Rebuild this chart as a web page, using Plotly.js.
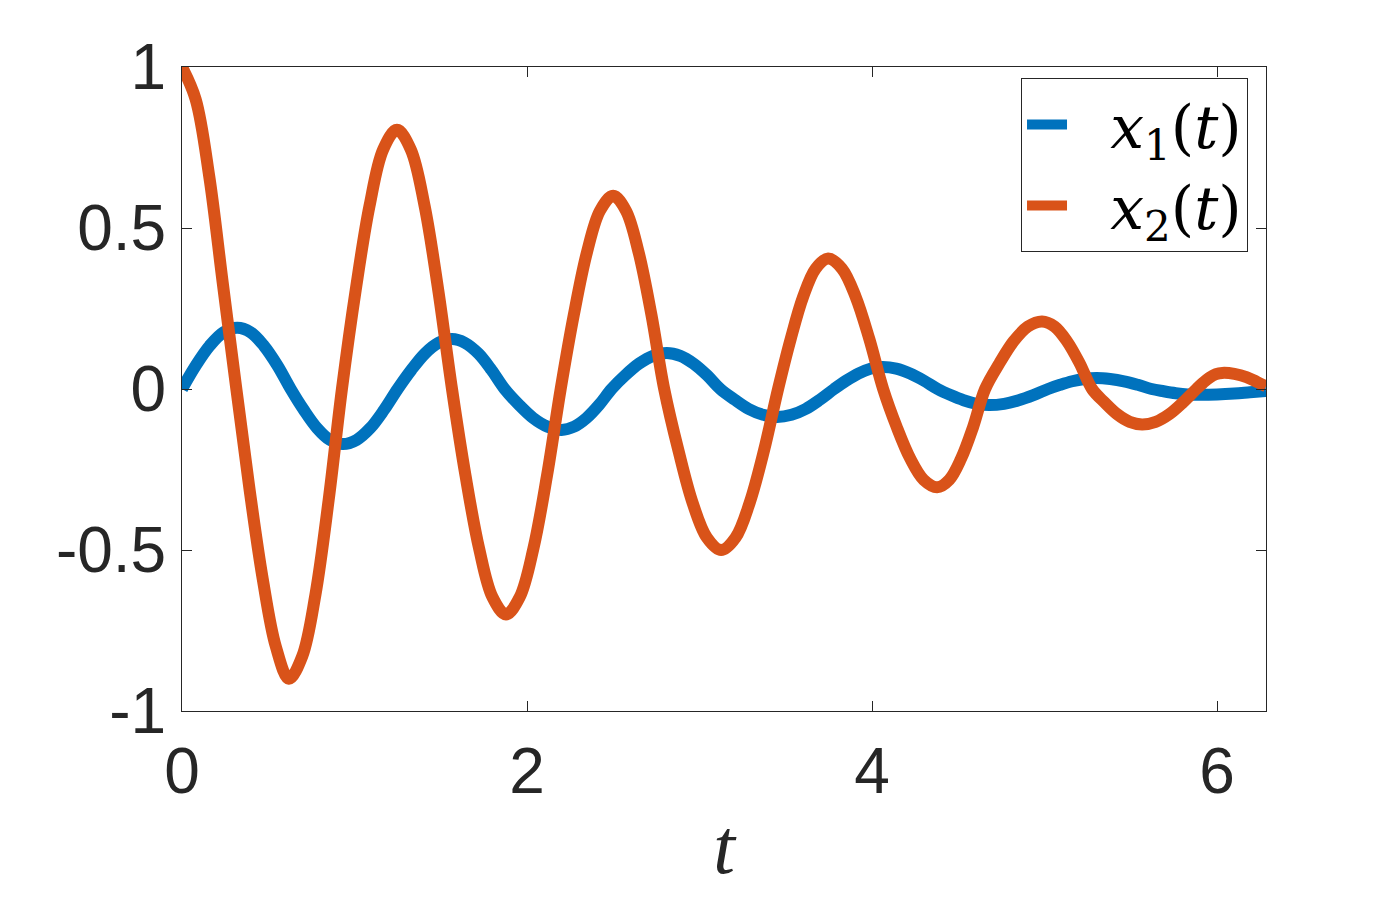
<!DOCTYPE html>
<html>
<head>
<meta charset="utf-8">
<script src="https://cdn.plot.ly/plotly-3.0.1.min.js"></script>
<style>
  html, body { margin: 0; padding: 0; background: #fff; }
  #plot { width: 1400px; height: 900px; }
</style>
</head>
<body>
<div id="plot"></div>
<script>
  // ─── Data ────────────────────────────────────────────────────────────────────
  var tX1 = [0.000, 0.080, 0.160, 0.240, 0.320, 0.398, 0.475, 0.553, 0.630,
             0.706, 0.782, 0.857, 0.933, 1.012, 1.092, 1.171, 1.250,
             1.329, 1.408, 1.486, 1.565, 1.641, 1.718, 1.794, 1.870,
             1.953, 2.035, 2.118, 2.200, 2.273, 2.345, 2.418, 2.490,
             2.570, 2.650, 2.730, 2.810, 2.888, 2.965, 3.043, 3.120,
             3.203, 3.285, 3.368, 3.450, 3.533, 3.615, 3.698, 3.780,
             3.850, 3.920, 3.990, 4.060, 4.140, 4.220, 4.300, 4.380,
             4.455, 4.530, 4.605, 4.680, 4.765, 4.850, 4.935, 5.020,
             5.090, 5.160, 5.230, 5.300, 5.380, 5.460, 5.540, 5.620,
             5.690, 5.760, 5.830, 5.900, 6.000, 6.100, 6.190, 6.283];
  var x1 = [0.000, 0.073, 0.134, 0.176, 0.190, 0.176, 0.134, 0.073, 0.000,
            -0.065, -0.121, -0.158, -0.171, -0.158, -0.121, -0.065, 0.000,
            0.059, 0.110, 0.143, 0.155, 0.143, 0.110, 0.059, 0.000,
            -0.049, -0.090, -0.117, -0.127, -0.117, -0.090, -0.049, 0.000,
            0.043, 0.079, 0.103, 0.112, 0.103, 0.079, 0.043, 0.000,
            -0.033, -0.062, -0.080, -0.087, -0.080, -0.062, -0.033, 0.000,
            0.026, 0.048, 0.063, 0.068, 0.063, 0.048, 0.026, 0.000,
            -0.019, -0.035, -0.046, -0.050, -0.046, -0.035, -0.019, 0.000,
            0.013, 0.024, 0.031, 0.034, 0.031, 0.024, 0.013, 0.000,
            -0.007, -0.013, -0.017, -0.018, -0.017, -0.014, -0.010, -0.006];

  var tX2 = [0.000, 0.079, 0.158, 0.236, 0.315, 0.391, 0.468, 0.544, 0.620,
             0.697, 0.773, 0.850, 0.927, 1.007, 1.087, 1.166, 1.246,
             1.326, 1.406, 1.485, 1.565, 1.643, 1.722, 1.800, 1.878,
             1.957, 2.037, 2.116, 2.195, 2.271, 2.347, 2.423, 2.499,
             2.573, 2.647, 2.721, 2.795, 2.878, 2.960, 3.043, 3.125,
             3.208, 3.290, 3.373, 3.455, 3.528, 3.600, 3.673, 3.745,
             3.825, 3.905, 3.984, 4.064, 4.142, 4.221, 4.299, 4.377,
             4.447, 4.516, 4.586, 4.655, 4.738, 4.820, 4.903, 4.985,
             5.058, 5.130, 5.203, 5.275, 5.348, 5.420, 5.493, 5.565,
             5.644, 5.723, 5.801, 5.880, 5.918, 5.955, 5.993, 6.030,
             6.100, 6.170, 6.230, 6.283];
  var x2 = [1.000, 0.900, 0.660, 0.330, 0.000, -0.310, -0.590, -0.800, -0.900,
            -0.830, -0.640, -0.345, 0.000, 0.308, 0.569, 0.744, 0.805,
            0.744, 0.569, 0.308, 0.000, -0.268, -0.495, -0.647, -0.700,
            -0.647, -0.495, -0.268, 0.000, 0.230, 0.424, 0.554, 0.600,
            0.554, 0.424, 0.230, 0.000, -0.192, -0.354, -0.462, -0.500,
            -0.462, -0.354, -0.192, 0.000, 0.155, 0.286, 0.374, 0.405,
            0.374, 0.286, 0.155, 0.000, -0.117, -0.216, -0.282, -0.305,
            -0.282, -0.216, -0.117, 0.000, 0.080, 0.148, 0.194, 0.210,
            0.194, 0.148, 0.080, 0.000, -0.042, -0.078, -0.102, -0.110,
            -0.102, -0.078, -0.042, 0.000, 0.019, 0.035, 0.046, 0.050,
            0.047, 0.037, 0.022, 0.008];

  var yTicks    = [-1, -0.5, 0, 0.5, 1];
  var yTickText = ['-1', '-0.5', '0', '0.5', '1'];
  var xTicks    = [0, 2, 4, 6];

  // ─── Styling ─────────────────────────────────────────────────────────────────
  var BLUE  = '#0072BD';
  var RED   = '#D95319';
  var INK   = '#262626';
  var SANS  = 'Liberation Sans, Arial, sans-serif';
  var SERIF = 'DejaVu Serif, Liberation Serif, serif';

  var axisCommon = {
    showline:  true,
    linecolor: INK,
    linewidth: 1,
    mirror:    'ticks',
    ticks:     'inside',
    ticklen:   10,
    tickwidth: 1,
    tickcolor: INK,
    showgrid:  false,
    zeroline:  false,
    tickfont:  { family: SANS, size: 64, color: INK }
  };

  var traces = [
    { x: tX1, y: x1, mode: 'lines', name: '&nbsp;&nbsp;<i>x</i><sub>1</sub>(<i>t</i>)',
      line: { color: BLUE, width: 12, shape: 'spline', smoothing: 1, simplify: false } },
    { x: tX2, y: x2, mode: 'lines', name: '&nbsp;&nbsp;<i>x</i><sub>2</sub>(<i>t</i>)',
      line: { color: RED, width: 12, shape: 'spline', smoothing: 1, simplify: false } }
  ];

  var layout = {
    width:  1400,
    height: 900,
    paper_bgcolor: '#fff',
    plot_bgcolor:  '#fff',
    margin: { l: 182, r: 134, t: 67, b: 189 },
    xaxis: Object.assign({}, axisCommon, {
      range: [0, 2 * Math.PI],
      tickvals: xTicks,
      ticktext: xTicks.map(String),
      ticklabelstandoff: 4,
      title: { text: '<i>t</i>', standoff: 12,
               font: { family: 'Liberation Serif, serif', size: 78, color: INK } }
    }),
    yaxis: Object.assign({}, axisCommon, {
      range: [-1, 1],
      tickvals: yTicks,
      ticktext: yTickText,
      ticklabelstandoff: 2
    }),
    showlegend: true,
    legend: {
      x: 0.774, y: 0.983, xanchor: 'left', yanchor: 'top',
      bgcolor: '#fff',
      bordercolor: INK,
      borderwidth: 1,
      itemwidth: 40,
      font: { family: SERIF, size: 60, color: '#000' }
    }
  };

  Plotly.newPlot('plot', traces, layout, { displayModeBar: false, staticPlot: true });
</script>
</body>
</html>
